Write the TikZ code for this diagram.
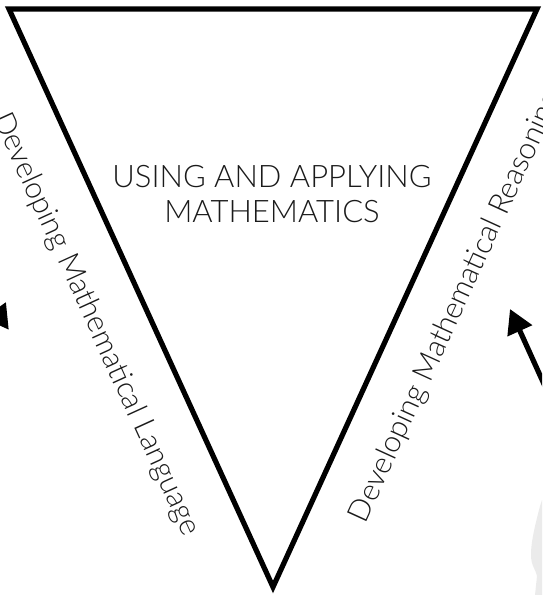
\documentclass[tikz,border=0pt]{standalone}
\usepackage{fontspec}
\setmainfont{Lato-Light.ttf}
\usepackage{xcolor}
\usetikzlibrary{positioning, arrows.meta, calc}
\definecolor{inkBlack}{HTML}{000000}
\definecolor{ghostGray}{HTML}{EBEBEB}
\definecolor{textDark}{HTML}{1A1A1A}

\begin{document}
\begin{tikzpicture}[
  x=0.5pt, y=-0.5pt,
  every node/.style={text=textDark},
  triEdge/.style={draw=inkBlack, line width=2.6pt, line join=miter},
  sideLabel/.style={font=\fontsize{15}{17}\selectfont, sloped, inner sep=0pt},
  mainLabel/.style={font=\fontsize{15.5}{17.5}\selectfont, align=center},
  cycArrow/.style={draw=inkBlack, line width=2.6pt,
                   -{Triangle[length=12pt, width=13pt]}},
]
  \useasboundingbox (0,0) rectangle (542,595);
  \clip (0,0) rectangle (542,595);

  % faint figure at the lower right
  \fill[ghostGray] (542,500) -- (540,506) .. controls (536,522) and (531,540) .. (531,555)
        .. controls (531,566) and (536,570) .. (537,576) -- (535,595) -- (542,595) -- cycle;

  \coordinate (tl) at (9,9);
  \coordinate (tr) at (537,9);
  \coordinate (bot) at (273,587);
  \draw[triEdge] (tl) -- (tr) -- (bot) -- cycle;

  \node[mainLabel] (core) at (272,194) {USING AND APPLYING\\MATHEMATICS};

  \path (tl) -- (bot) node[sideLabel, pos=0.145, anchor=north west, yshift=-19pt] (lang)
        {Developing Mathematical Language};
  \path (bot) -- (tr) node[sideLabel, pos=0.15, anchor=north west, yshift=-18pt] (reas)
        {Developing Mathematical Reasoning};

  % arrows running in from outside the frame
  \coordinate (leftTail) at (-56,439);
  \coordinate (leftTip) at (6,302);
  \coordinate (rightTail) at (572,446);
  \coordinate (rightTip) at (510,309);
  \draw[cycArrow] (leftTail) -- (leftTip);
  \draw[cycArrow] (rightTail) -- (rightTip);
\end{tikzpicture}
\end{document}
